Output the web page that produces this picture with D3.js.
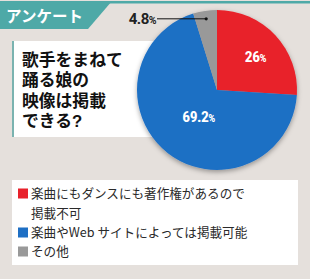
<!DOCTYPE html>
<html><head><meta charset="utf-8">
<script src="https://cdn.jsdelivr.net/npm/d3@7"></script>
<style>
html,body{margin:0;padding:0;background:#e5e0dc;}
svg{display:block;font-family:"Noto Sans CJK JP","Noto Sans",sans-serif;}
</style></head><body>
<script>
const categories = ["楽曲にもダンスにも著作権があるので掲載不可", "楽曲やWebサイトによっては掲載可能", "その他"];
const values = [26, 69.2, 4.8];
const valueLabels = ["26", "69.2", "4.8"];
const legendLines = [["楽曲にもダンスにも著作権があるので", "掲載不可"], ["楽曲やWeb サイトによっては掲載可能"], ["その他"]];
const titleLines = ["歌手をまねて", "踊る娘の", "映像は掲載", "できる?"];
const headerText = "アンケート";

const colors = ["#e8212b", "#1e6fc4", "#999999"];
const W = 310, H = 279;
const svg = d3.select("body").append("svg").attr("width", W).attr("height", H);
const defs = svg.append("defs");
const f = defs.append("filter").attr("id","sh").attr("x","-20%").attr("y","-20%").attr("width","140%").attr("height","150%");
f.append("feDropShadow").attr("dx",0).attr("dy",2).attr("stdDeviation",2.5).attr("flood-color","#000").attr("flood-opacity",0.35);

svg.append("rect").attr("width",W).attr("height",H).attr("fill","#e5e0dc");
// header
svg.append("rect").attr("x",0).attr("y",1).attr("width",W).attr("height",2.5).attr("fill","#4ea9a7");
svg.append("polygon").attr("points","0,1 112,1 88,29 0,29").attr("fill","#4ea9a7");
svg.append("text").attr("x",6).attr("y",22).attr("fill","#fff").attr("font-size",15.5).attr("font-weight",700).text(headerText);

// title box
svg.append("rect").attr("x",12).attr("y",41).attr("width",170).attr("height",96).attr("fill","#fff");
svg.append("rect").attr("x",12).attr("y",41).attr("width",2).attr("height",96).attr("fill","#7ab3b0");
svg.append("text").attr("font-size",16.8).attr("font-weight",700).attr("fill","#111")
  .attr("font-family","'Liberation Sans','Noto Sans CJK JP',sans-serif")
  .selectAll("tspan").data(titleLines).join("tspan")
  .attr("x",22).attr("y",(d,i)=>66+i*20.3).text(d=>d);

// pie
const cx = 217, cy = 90, R = 80;
const pie = d3.pie().sort(null).value(d=>d)(values);
const arc = d3.arc().innerRadius(0).outerRadius(R);
const g = svg.append("g").attr("transform",`translate(${cx},${cy})`);
g.append("g").attr("filter","url(#sh)").selectAll("path").data(pie).join("path")
  .attr("d",arc).attr("fill",(d,i)=>colors[i]);

const labelR = [50, 33];
pie.slice(0,2).forEach((d,i)=>{
  const c = d3.arc().innerRadius(labelR[i]).outerRadius(labelR[i]).centroid(d);
  const t = g.append("text").attr("x",c[0]+2).attr("y",c[1]+6.5).attr("text-anchor","middle")
    .attr("fill","#fff").attr("font-weight",700).attr("font-size",15.5)
    .attr("font-family","'Roboto Condensed','Liberation Sans Narrow',Roboto,sans-serif").attr("letter-spacing",-0.5);
  t.append("tspan").text(valueLabels[i]);
  t.append("tspan").attr("font-size",11).text("%");
});
// small slice label with leader
const gs = pie[2];
const p = d3.arc().innerRadius(72).outerRadius(72).centroid(gs);
g.append("line").attr("x1",p[0]).attr("y1",p[1]).attr("x2",-60).attr("y2",p[1]).attr("stroke","#111").attr("stroke-width",1);
g.append("circle").attr("cx",p[0]).attr("cy",p[1]).attr("r",1.6).attr("fill","#111");
const t3 = g.append("text").attr("x",-61).attr("y",p[1]+5.5).attr("text-anchor","end").attr("fill","#222")
  .attr("font-weight",700).attr("font-size",15).attr("font-family","Roboto,sans-serif").attr("letter-spacing",-0.5);
t3.append("tspan").text(valueLabels[2]);
t3.append("tspan").attr("font-size",10.5).text("%");

// legend
svg.append("rect").attr("x",12).attr("y",180).attr("width",286).attr("height",85).attr("fill","#fff");
const rowY = [198, 237, 256];
const lg = svg.append("g");
categories.forEach((c,i)=>{
  lg.append("rect").attr("x",18).attr("y",rowY[i]-9.5).attr("width",10).attr("height",10).attr("fill",colors[i]);
  lg.append("text").attr("font-size",12.6).attr("fill","#2a2a2a")
    .selectAll("tspan").data(legendLines[i]).join("tspan")
    .attr("x",31).attr("y",(d,j)=>rowY[i]+j*20).text(d=>d);
});
</script>
</body></html>
